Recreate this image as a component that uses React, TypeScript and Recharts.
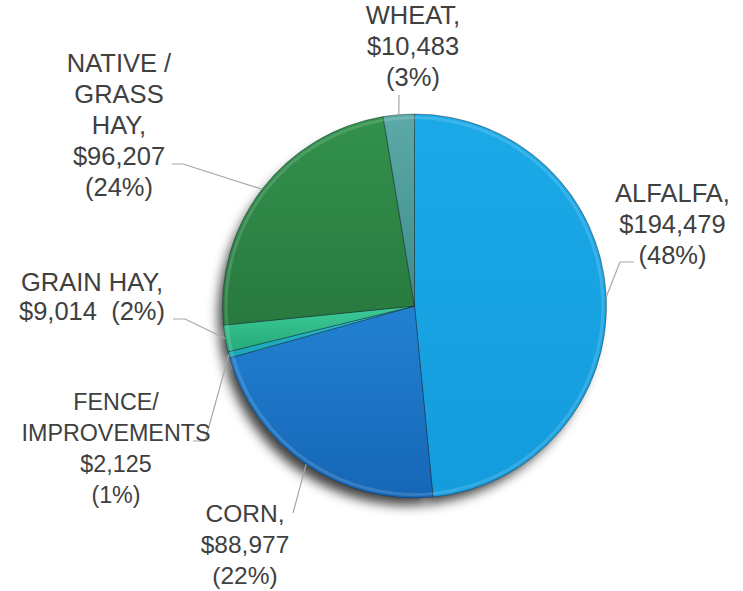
import { PieChart, Pie, Cell } from "recharts";

const categories = ["ALFALFA", "CORN", "FENCE/IMPROVEMENTS", "GRAIN HAY", "NATIVE / GRASS HAY", "WHEAT"];
const values = [194479, 88977, 2125, 9014, 96207, 10483];
// how each category name is broken into lines in its label
const nameLines = [
  ["ALFALFA,"],
  ["CORN,"],
  ["FENCE/", "IMPROVEMENTS"],
  ["GRAIN HAY,"],
  ["NATIVE /", "GRASS", "HAY,"],
  ["WHEAT,"],
];
const colorsTop = ["#1BA9E7", "#2381D2", "#2CC0D2", "#3DCB98", "#32914C", "#5BAAA8"];
const colorsBottom = ["#149CDD", "#1566B6", "#1AA3B8", "#26AA7A", "#28793F", "#3F8D8A"];

// label placement relative to pie centre: text block (first line centre) + leader bends
const labelLayout = [
  { tx: 258, ty: -113, bend: [[205.5, -44], [219.5, -44]], inline: false, size: 25.5 },
  { tx: -169.5, ty: 207, bend: [[-121.5, 207]], inline: false, size: 24.5 },
  { tx: -298.5, ty: 96, bend: [[-209.5, 135], [-221.5, 135]], inline: false, size: 23.3 },
  { tx: -322.5, ty: -24, bend: [[-229.5, 13], [-241.5, 13]], inline: true, size: 25.5 },
  { tx: -295.5, ty: -243, bend: [[-231.5, -142], [-242.5, -142]], inline: false, size: 25.5 },
  { tx: -1.5, ty: -291, bend: [[-15.5, -211]], inline: false, size: 25.5 },
];

const total = values.reduce((a, b) => a + b, 0);
const data = categories.map((name, i) => ({ name, value: values[i] }));
const fmt = (v: number) => "$" + v.toLocaleString("en-US");
const pct = (v: number) => "(" + Math.round((v / total) * 100) + "%)";

const RAD = Math.PI / 180;
const LINE_H = 31;

function renderLabel(props: any) {
  const { cx, cy, midAngle, outerRadius, index } = props;
  const lay = labelLayout[index];
  const sx = cx + outerRadius * Math.cos(-midAngle * RAD);
  const sy = cy + outerRadius * Math.sin(-midAngle * RAD);
  const pts = [[sx, sy], ...lay.bend.map(([dx, dy]) => [cx + dx, cy + dy])];
  const v = values[index];
  const lines = lay.inline
    ? [...nameLines[index], fmt(v) + "  " + pct(v)]
    : [...nameLines[index], fmt(v), pct(v)];
  return (
    <g key={"lbl" + index}>
      <polyline
        points={pts.map((p) => p.join(",")).join(" ")}
        fill="none"
        stroke="#A6A6A6"
        strokeWidth={1.2}
      />
      {lines.map((t, i) => (
        <text
          key={i}
          x={cx + lay.tx}
          y={cy + lay.ty + i * (lay.inline ? 29 : LINE_H)}
          textAnchor="middle"
          dominantBaseline="central"
          fill="#404040"
          fontSize={lay.size}
          fontFamily="'Liberation Sans', Arial, sans-serif"
          style={{ whiteSpace: "pre" }}
        >
          {t}
        </text>
      ))}
    </g>
  );
}

export default function App() {
  const cx = 414.5;
  const cy = 306;
  return (
    <div>
      {/* drop the default body margin so labels can use the full window */}
      <style>{"body { margin: 0; }"}</style>
      <PieChart width={743} height={591} margin={{ top: 0, right: 0, bottom: 0, left: 0 }}>
        <defs>
          {colorsTop.map((c, i) => (
            <linearGradient key={i} id={"grad" + i} x1="0" y1="0" x2="0" y2="1">
              <stop offset="0%" stopColor={c} />
              <stop offset="100%" stopColor={colorsBottom[i]} />
            </linearGradient>
          ))}
          <filter id="shadowBlur" x="-20%" y="-20%" width="140%" height="140%">
            <feGaussianBlur stdDeviation="6" />
          </filter>
        </defs>
        {/* soft drop shadow underneath */}
        <Pie
          data={data}
          dataKey="value"
          cx={cx - 7}
          cy={cy + 10}
          outerRadius={189}
          startAngle={90}
          endAngle={-270}
          stroke="none"
          isAnimationActive={false}
          label={false}
          labelLine={false}
        >
          {data.map((_, i) => (
            <Cell key={i} fill="#000" fillOpacity={0.75} filter="url(#shadowBlur)" />
          ))}
        </Pie>
        <Pie
          data={data}
          dataKey="value"
          cx={cx}
          cy={cy}
          outerRadius={192}
          startAngle={90}
          endAngle={-270}
          isAnimationActive={false}
          label={renderLabel}
          labelLine={false}
        >
          {data.map((_, i) => (
            <Cell key={i} fill={`url(#grad${i})`} stroke="rgba(20,40,50,0.55)" strokeWidth={0.8} />
          ))}
        </Pie>
        {/* thin highlight rim */}
        <Pie
          data={data}
          dataKey="value"
          cx={cx}
          cy={cy}
          innerRadius={187}
          outerRadius={190}
          startAngle={90}
          endAngle={-270}
          stroke="none"
          isAnimationActive={false}
          label={false}
          labelLine={false}
        >
          {data.map((_, i) => (
            <Cell key={i} fill="#ffffff" fillOpacity={0.15} />
          ))}
        </Pie>
      </PieChart>
    </div>
  );
}
